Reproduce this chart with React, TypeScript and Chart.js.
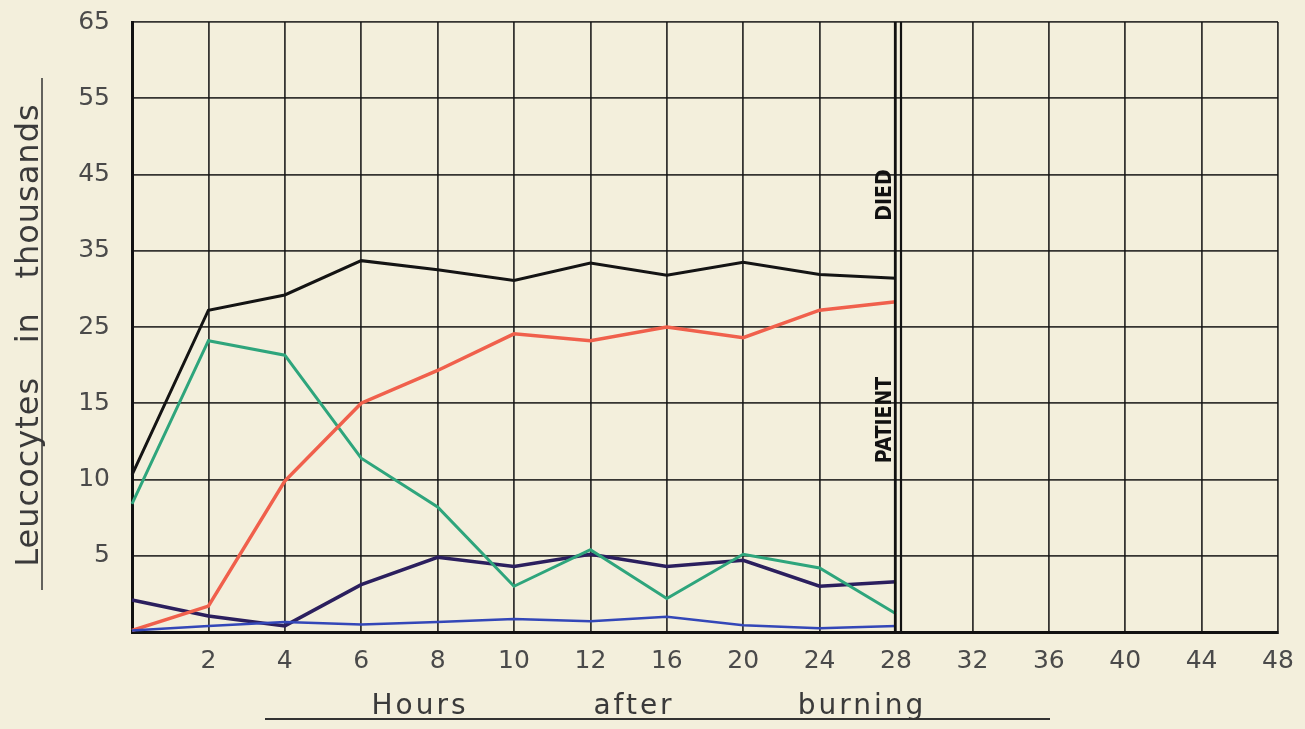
import React, { useEffect, useRef } from "react";
import { Chart, registerables } from "chart.js";

Chart.register(...registerables);

const hourLabels = ["", "2", "4", "6", "8", "10", "12", "16", "20", "24", "28", "32", "36", "40", "44", "48"];
const yTickLabels = ["", "5", "10", "15", "25", "35", "45", "55", "65"];

const blackSeries = [10.3, 27.2, 29.2, 33.7, 32.5, 31.1, 33.4, 31.8, 33.5, 31.9, 31.4];
const redSeries = [0.1, 1.7, 9.9, 15, 19.3, 24.1, 23.2, 25, 23.6, 27.2, 28.3];
const greenSeries = [8.4, 23.2, 21.3, 11.4, 8.2, 3.0, 5.4, 2.2, 5.1, 4.2, 1.2];
const purpleSeries = [2.1, 1.05, 0.4, 3.1, 4.9, 4.3, 5.1, 4.3, 4.7, 3.0, 3.3];
const blueSeries = [0.1, 0.4, 0.65, 0.5, 0.65, 0.85, 0.7, 1.0, 0.45, 0.25, 0.4];

// Non-linear paper grid: 0,5,10,15 then steps of 10 up to 65
const toGrid = (v: number) => (v <= 15 ? v / 5 : 3 + (v - 15) / 10);

const BG = "#f3efdc";

const paperPlugin = {
  id: "paper",
  beforeDraw(chart: any) {
    const { ctx, width, height } = chart;
    ctx.save();
    ctx.fillStyle = BG;
    ctx.fillRect(0, 0, width, height);
    ctx.restore();
  },
  afterDraw(chart: any) {
    const { ctx, chartArea, scales } = chart;
    const x = scales.x;
    ctx.save();
    // double line at 28 h
    const x28 = x.getPixelForValue(10);
    ctx.strokeStyle = "#111";
    ctx.lineWidth = 2.2;
    ctx.beginPath();
    ctx.moveTo(x28 - 1, chartArea.top);
    ctx.lineTo(x28 - 1, chartArea.bottom);
    ctx.moveTo(x28 + 5, chartArea.top);
    ctx.lineTo(x28 + 5, chartArea.bottom);
    ctx.stroke();

    // PATIENT / DIED
    ctx.fillStyle = "#111";
    ctx.font = 'bold 21px "DejaVu Sans Condensed", "DejaVu Sans", sans-serif';
    ctx.textAlign = "center";
    ctx.textBaseline = "middle";
    ctx.save();
    ctx.translate(x28 - 10, 420);
    ctx.rotate(-Math.PI / 2);
    ctx.fillText("PATIENT", 0, 0);
    ctx.restore();
    ctx.save();
    ctx.translate(x28 - 10, 195);
    ctx.rotate(-Math.PI / 2);
    ctx.fillText("DIED", 0, 0);
    ctx.restore();

    // y title
    ctx.fillStyle = "#3a3a3a";
    ctx.font = '32px "DejaVu Sans", sans-serif';
    (ctx as any).letterSpacing = "1px";
    ctx.save();
    ctx.translate(30, 335);
    ctx.rotate(-Math.PI / 2);
    ctx.fillText("Leucocytes   in   thousands", 0, 0);
    ctx.restore();
    ctx.strokeStyle = "#333";
    ctx.lineWidth = 1.5;
    ctx.beginPath();
    ctx.moveTo(42, 78);
    ctx.lineTo(42, 590);
    ctx.stroke();

    // x title
    ctx.font = '28px "DejaVu Sans", sans-serif';
    (ctx as any).letterSpacing = "3px";
    ctx.fillStyle = "#3a3a3a";
    ctx.textBaseline = "alphabetic";
    ctx.fillText("Hours", 420, 714);
    ctx.fillText("after", 634, 714);
    ctx.fillText("burning", 862, 714);
    (ctx as any).letterSpacing = "0px";
    ctx.beginPath();
    ctx.lineWidth = 2;
    ctx.moveTo(265, 719);
    ctx.lineTo(1050, 719);
    ctx.stroke();
    ctx.restore();
  },
};

export default function App() {
  const ref = useRef<HTMLCanvasElement | null>(null);

  useEffect(() => {
    document.body.style.margin = "0";
    document.body.style.background = BG;
    const mk = (data: number[], color: string, width = 3) => ({
      data: data.map(toGrid),
      borderColor: color,
      borderWidth: width,
      pointRadius: 0,
      tension: 0,
      fill: false,
    });
    const chart = new Chart(ref.current as HTMLCanvasElement, {
      type: "line",
      data: {
        labels: hourLabels,
        datasets: [
          mk(blueSeries, "#3347b8", 2.5),
          mk(redSeries, "#f0604c", 3.5),
          mk(greenSeries, "#2ea57c", 3),
          mk(purpleSeries, "#2b1f5e", 3.5),
          mk(blackSeries, "#141414", 3),
        ],
      },
      options: {
        animation: false,
        responsive: true,
        maintainAspectRatio: false,
        layout: { padding: { left: 0, top: 22, right: 27, bottom: 0 } },
        plugins: {
          legend: { display: false },
          tooltip: { enabled: false },
        },
        scales: {
          x: {
            type: "category",
            offset: false,
            afterFit: (s: any) => {
              s.height = 97;
              s.paddingLeft = 0;
              s.paddingRight = 0;
            },
            grid: { color: "rgba(20,20,20,0.85)", lineWidth: 1.8, drawTicks: false },
            border: { color: "#111", width: 3 },
            ticks: {
              color: "#4a4a4a",
              font: { family: '"DejaVu Sans", sans-serif', size: 25 },
              padding: 14,
              maxRotation: 0,
              autoSkip: false,
            },
          },
          y: {
            type: "linear",
            min: 0,
            max: 8,
            afterFit: (s: any) => {
              s.width = 132;
              s.paddingTop = 0;
              s.paddingBottom = 0;
            },
            grid: { color: "rgba(20,20,20,0.85)", lineWidth: 1.8, drawTicks: false },
            border: { color: "#111", width: 3 },
            ticks: {
              stepSize: 1,
              color: "#4a4a4a",
              font: { family: '"DejaVu Sans", sans-serif', size: 25 },
              padding: 22,
              callback: (v: any) => yTickLabels[Math.round(Number(v))] ?? "",
            },
          },
        },
      },
      plugins: [paperPlugin],
    });
    return () => chart.destroy();
  }, []);

  return (
    <div style={{ position: "fixed", left: 0, top: 0, width: 1305, height: 729, background: BG }}>
      <canvas ref={ref} />
    </div>
  );
}
